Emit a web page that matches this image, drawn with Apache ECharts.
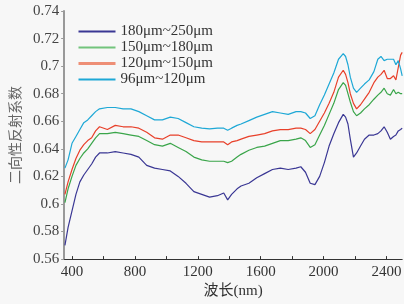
<!DOCTYPE html>
<html>
<head>
<meta charset="utf-8">
<script src="https://cdn.jsdelivr.net/npm/echarts@6/dist/echarts.min.js"></script>
<style>
  html, body { margin: 0; padding: 0; background: #f7f7f7; }
  #main { width: 404px; height: 304px; }
</style>
</head>
<body>
<div id="main"></div>
<script>
const wavelength = [355, 375, 400, 425, 450, 475, 500, 525, 550, 575, 625, 675, 725, 775, 825, 875, 925, 975,
  1025, 1075, 1125, 1175, 1225, 1275, 1325, 1365, 1390, 1415, 1450, 1475, 1525, 1575, 1625, 1675, 1725, 1775,
  1825, 1855, 1885, 1915, 1945, 1975, 2005, 2035, 2065, 2095, 2125, 2140, 2155, 2170, 2190, 2210, 2235, 2260,
  2290, 2320, 2345, 2365, 2385, 2405, 2425, 2445, 2460, 2475, 2490, 2500];

const s180_250 = [0.570, 0.583, 0.595, 0.607, 0.616, 0.621, 0.625, 0.629, 0.634, 0.637, 0.637, 0.638, 0.637, 0.636,
  0.634, 0.628, 0.626, 0.625, 0.624, 0.620, 0.615, 0.609, 0.607, 0.605, 0.606, 0.608, 0.603, 0.607, 0.611, 0.613,
  0.615, 0.619, 0.622, 0.625, 0.626, 0.625, 0.626, 0.627, 0.623, 0.615, 0.614, 0.620, 0.630, 0.642, 0.651, 0.659,
  0.665, 0.663, 0.658, 0.647, 0.634, 0.637, 0.642, 0.647, 0.650, 0.650, 0.651, 0.653, 0.656, 0.652, 0.647, 0.649,
  0.650, 0.653, 0.654, 0.655];

const s150_180 = [0.601, 0.611, 0.620, 0.628, 0.633, 0.637, 0.640, 0.644, 0.648, 0.651, 0.651, 0.652, 0.651, 0.650,
  0.649, 0.646, 0.643, 0.642, 0.644, 0.641, 0.638, 0.634, 0.632, 0.631, 0.631, 0.631, 0.630, 0.631, 0.634, 0.636,
  0.639, 0.641, 0.642, 0.644, 0.646, 0.646, 0.647, 0.648, 0.646, 0.641, 0.643, 0.650, 0.657, 0.665, 0.673, 0.683,
  0.688, 0.686, 0.680, 0.674, 0.667, 0.664, 0.666, 0.669, 0.672, 0.676, 0.679, 0.681, 0.684, 0.680, 0.679, 0.683,
  0.680, 0.681, 0.680, 0.680];

const s120_150 = [0.607, 0.616, 0.625, 0.633, 0.639, 0.643, 0.646, 0.648, 0.653, 0.656, 0.654, 0.657, 0.656, 0.656,
  0.655, 0.652, 0.648, 0.647, 0.650, 0.650, 0.648, 0.646, 0.645, 0.645, 0.645, 0.645, 0.643, 0.645, 0.646, 0.647,
  0.649, 0.650, 0.651, 0.653, 0.654, 0.654, 0.655, 0.655, 0.654, 0.651, 0.654, 0.660, 0.666, 0.673, 0.681, 0.692,
  0.697, 0.694, 0.688, 0.680, 0.673, 0.669, 0.672, 0.676, 0.681, 0.688, 0.692, 0.694, 0.697, 0.691, 0.691, 0.693,
  0.690, 0.699, 0.708, 0.710];

const s96_120 = [0.626, 0.632, 0.644, 0.649, 0.654, 0.659, 0.661, 0.664, 0.667, 0.669, 0.670, 0.670, 0.669, 0.669,
  0.667, 0.664, 0.661, 0.661, 0.663, 0.662, 0.659, 0.656, 0.655, 0.6545, 0.655, 0.655, 0.6535, 0.655, 0.657, 0.658,
  0.6605, 0.663, 0.665, 0.667, 0.666, 0.665, 0.667, 0.667, 0.666, 0.662, 0.664, 0.672, 0.679, 0.687, 0.695, 0.705,
  0.709, 0.707, 0.701, 0.692, 0.684, 0.681, 0.684, 0.687, 0.690, 0.696, 0.705, 0.707, 0.704, 0.705, 0.705, 0.705,
  0.701, 0.704, 0.698, 0.693];

const seriesNames = ['180μm~250μm', '150μm~180μm', '120μm~150μm', '96μm~120μm'];
const seriesColors = ['#3a3794', '#3aa54a', '#e8402a', '#1ea8d6'];
const xLabelValues = [400, 800, 1200, 1600, 2000, 2400];
const xTickValues = [400, 600, 800, 1000, 1200, 1400, 1600, 1800, 2000, 2200, 2400];

const chart = echarts.init(document.getElementById('main'), null, { renderer: 'canvas' });

const toPairs = (vals) => wavelength.map((w, i) => [w, vals[i]]);
const allValues = [s180_250, s150_180, s120_150, s96_120];

const serif = 'Liberation Serif, DejaVu Serif, serif';

chart.setOption({
  backgroundColor: '#f7f7f7',
  animation: false,
  grid: { left: 54, right: 1, top: 11, bottom: 38 },
  legend: {
    orient: 'vertical',
    left: 77,
    top: 24,
    padding: 0,
    itemWidth: 37,
    itemHeight: 10,
    itemGap: 1,
    itemStyle: { opacity: 0 },
    textStyle: { fontFamily: serif, fontSize: 15, color: '#333', lineHeight: 15 },
    data: [
      { name: seriesNames[0] },
      { name: seriesNames[1], lineStyle: { color: '#72c47c' } },
      { name: seriesNames[2], lineStyle: { color: '#ee8f76', width: 3 } },
      { name: seriesNames[3] }
    ]
  },
  xAxis: {
    type: 'value',
    min: 350,
    max: 2500,
    name: '波长(nm)',
    nameLocation: 'middle',
    nameGap: 20,
    nameTextStyle: { fontFamily: 'Liberation Serif, Noto Sans CJK SC', fontSize: 15, color: '#333' },
    axisLine: { lineStyle: { color: '#333', width: 1 } },
    axisTick: { inside: true, length: 3, customValues: xTickValues, lineStyle: { color: '#333' } },
    axisLabel: {
      customValues: xLabelValues,
      formatter: (v) => String(v),
      fontFamily: serif, fontSize: 15, color: '#333', margin: 5
    },
    splitLine: { show: false }
  },
  yAxis: {
    type: 'value',
    min: 0.56,
    max: 0.74,
    interval: 0.02,
    name: '二向性反射系数',
    nameLocation: 'middle',
    nameGap: 36,
    nameTextStyle: { fontFamily: 'Noto Sans CJK SC', fontSize: 14, color: '#666' },
    axisLine: { show: true, lineStyle: { color: '#999', width: 2 } },
    axisTick: { show: true, inside: false, length: 3, lineStyle: { color: '#999' } },
    axisLabel: { fontFamily: serif, fontSize: 15, color: '#444', margin: 5 },
    splitLine: { show: false }
  },
  series: seriesNames.map((name, i) => ({
    name: name,
    type: 'line',
    symbol: 'none',
    data: toPairs(allValues[i]),
    lineStyle: { color: seriesColors[i], width: 1.2 },
    itemStyle: { color: seriesColors[i] }
  }))
});
</script>
</body>
</html>
